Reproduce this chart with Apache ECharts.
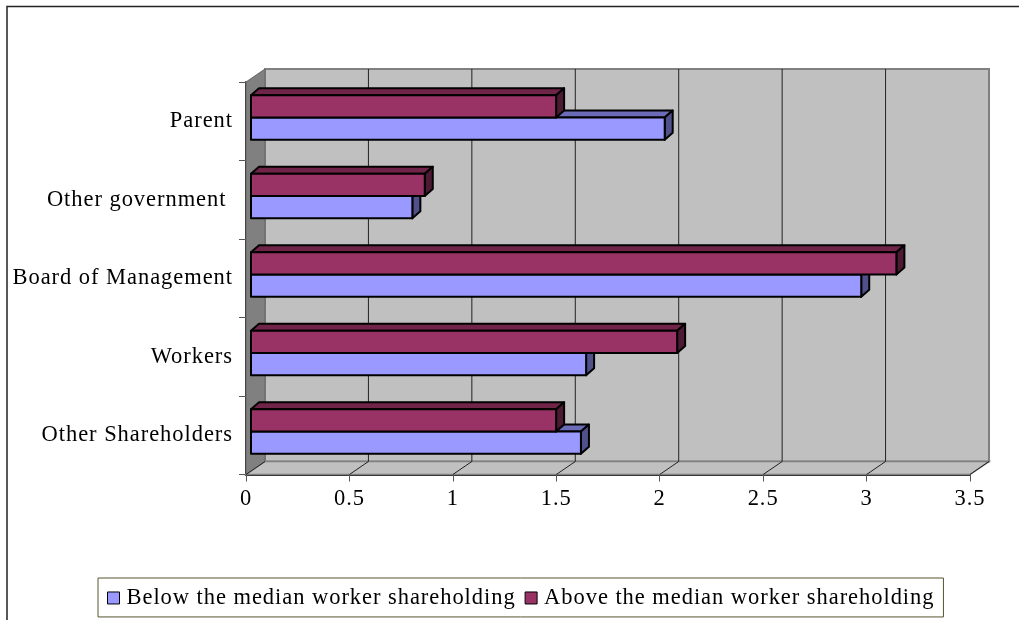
<!DOCTYPE html>
<html><head><meta charset="utf-8">
<style>html,body{margin:0;padding:0;background:#fff}#c{width:1019px;height:620px}</style>
<script src="https://cdn.jsdelivr.net/npm/echarts@6/dist/echarts.min.js"></script>
</head><body><div id="c"></div>
<script>
const categories = ['Other Shareholders','Workers','Board of Management','Other government ','Parent'];
const belowMedian = [1.595,1.62,2.95,0.78,2.0];
const aboveMedian = [1.475,2.06,3.12,0.84,1.475];
const xMax = 3.5, xStep = 0.5;
const xTickValues = [0,0.5,1,1.5,2,2.5,3,3.5];
const FONT = '"Liberation Serif"';
const FS = 22.5;
const DX = 19, DY = -13;          // wall depth
const BX = 5, BY = -3.7;          // bar offset from front plane
const BW = 8, BH = -7;            // bar depth
const BAR_H = 22.3;
// the reference text is tracked: apply it to every 2D context (measuring and drawing)
const origGetContext = HTMLCanvasElement.prototype.getContext;
HTMLCanvasElement.prototype.getContext = function(t,o){
  const ctx = origGetContext.call(this,t,o);
  if(t==='2d' && ctx && 'letterSpacing' in ctx) ctx.letterSpacing='0.95px';
  return ctx;
};
const chart = echarts.init(document.getElementById('c'),null,{renderer:'canvas'});
function ends(api){
  const band = api.size([0,1])[1];
  return {bottom: api.coord([0,0])[1]+band/2, top: api.coord([0,categories.length-1])[1]-band/2,
          left: api.coord([0,0])[0], right: api.coord([xMax,0])[0]};
}
function wall(params, api){
  const e=ends(api), g='#808080';
  return {type:'group',children:[
    {type:'polygon',shape:{points:[[e.left+DX,e.top+DY],[e.right+DX,e.top+DY],[e.right+DX,e.bottom+DY],[e.left+DX,e.bottom+DY]]},style:{fill:'#C0C0C0',stroke:g,lineWidth:2}},
    {type:'polygon',shape:{points:[[e.left,e.top],[e.left+DX,e.top+DY],[e.left+DX,e.bottom+DY],[e.left,e.bottom]]},style:{fill:'#808080',stroke:'#666',lineWidth:1}},
    {type:'polygon',shape:{points:[[e.left,e.bottom],[e.right,e.bottom],[e.right+DX,e.bottom+DY],[e.left+DX,e.bottom+DY]]},style:{fill:'#C0C0C0',stroke:g,lineWidth:1.5}}
  ]};
}
function grid(params, api){
  const v=api.value(0), e=ends(api), x=api.coord([v,0])[0];
  const s={stroke:'#222',lineWidth:1};
  const ch=[{type:'line',shape:{x1:x,y1:e.bottom,x2:x+DX,y2:e.bottom+DY},style:s}];
  if(v>0&&v<xMax) ch.push({type:'line',shape:{x1:x+DX,y1:e.bottom+DY,x2:x+DX,y2:e.top+DY},style:s});
  return {type:'group',children:ch};
}
function bar(up, front, top, side){
  return function(params, api){
    const v=api.value(0), c=api.value(1);
    const a=api.coord([0,c]), e=api.coord([v,c]);
    const x0=a[0]+BX, x1=e[0]+BX, yc=a[1]+BY;
    const y0=up?yc-BAR_H:yc, y1=up?yc:yc+BAR_H;
    const st=(f)=>({fill:f,stroke:'#000',lineWidth:2,lineJoin:'round'});
    return {type:'group',children:[
      {type:'polygon',shape:{points:[[x0,y0],[x0+BW,y0+BH],[x1+BW,y0+BH],[x1,y0]]},style:st(top)},
      {type:'polygon',shape:{points:[[x1,y0],[x1+BW,y0+BH],[x1+BW,y1+BH],[x1,y1]]},style:st(side)},
      {type:'rect',shape:{x:x0,y:y0,width:x1-x0,height:y1-y0},style:st(front)}
    ]};
  };
}
const toData = a => a.map((v,i)=>[v,i]);
chart.setOption({
  animation:false,
  backgroundColor:'#fff',
  graphic:[
    {type:'polyline',shape:{points:[[7,620],[7,6.5],[1019,6.5]]},style:{stroke:'#222',lineWidth:1.5,fill:null}}
  ],
  legend:{
    left:98,top:578,itemGap:9,itemWidth:12,itemHeight:12,padding:[8,9,7,9],
    borderColor:'#55552f',borderWidth:1,backgroundColor:'#fff',
    textStyle:{fontFamily:FONT,fontSize:FS,color:'#000',padding:[2,0,0,2]},
    data:[
      {name:'Below the median worker shareholding',icon:'rect',itemStyle:{color:'#9999FF',borderColor:'#000',borderWidth:1}},
      {name:'Above the median worker shareholding',icon:'rect',itemStyle:{color:'#993366',borderColor:'#000',borderWidth:1}}
    ]
  },
  grid:{left:246,top:82,width:724,height:392.5},
  xAxis:{type:'value',min:0,max:xMax,interval:xStep,
    axisLine:{show:true,lineStyle:{color:'#222',width:2}},
    axisTick:{show:true,length:7,lineStyle:{color:'#555'}},
    splitLine:{show:false},
    axisLabel:{fontFamily:FONT,fontSize:FS,color:'#000',margin:13,showMinLabel:true,showMaxLabel:true}},
  yAxis:{type:'category',data:categories,
    axisLine:{show:true,lineStyle:{color:'#222',width:2}},
    axisTick:{show:true,length:7,lineStyle:{color:'#555'}},
    splitLine:{show:false},
    axisLabel:{fontFamily:FONT,fontSize:FS,color:'#000',margin:13,padding:[3,0,0,0]}},
  series:[
    {type:'custom',name:'walls',silent:true,z:1,clip:false,data:[[0,0]],renderItem:wall,encode:{x:0,y:1}},
    {type:'custom',name:'grid',silent:true,z:2,clip:false,data:xTickValues.map(v=>[v,0]),renderItem:grid,encode:{x:0,y:1}},
    {type:'custom',name:'Below the median worker shareholding',z:3,clip:false,itemStyle:{color:'#9999FF'},data:toData(belowMedian),renderItem:bar(false,'#9999FF','#6B6BB8','#50508A'),encode:{x:0,y:1}},
    {type:'custom',name:'Above the median worker shareholding',z:4,clip:false,itemStyle:{color:'#993366'},data:toData(aboveMedian),renderItem:bar(true,'#993366','#702548','#4D1A33'),encode:{x:0,y:1}}
  ]
});
</script></body></html>
